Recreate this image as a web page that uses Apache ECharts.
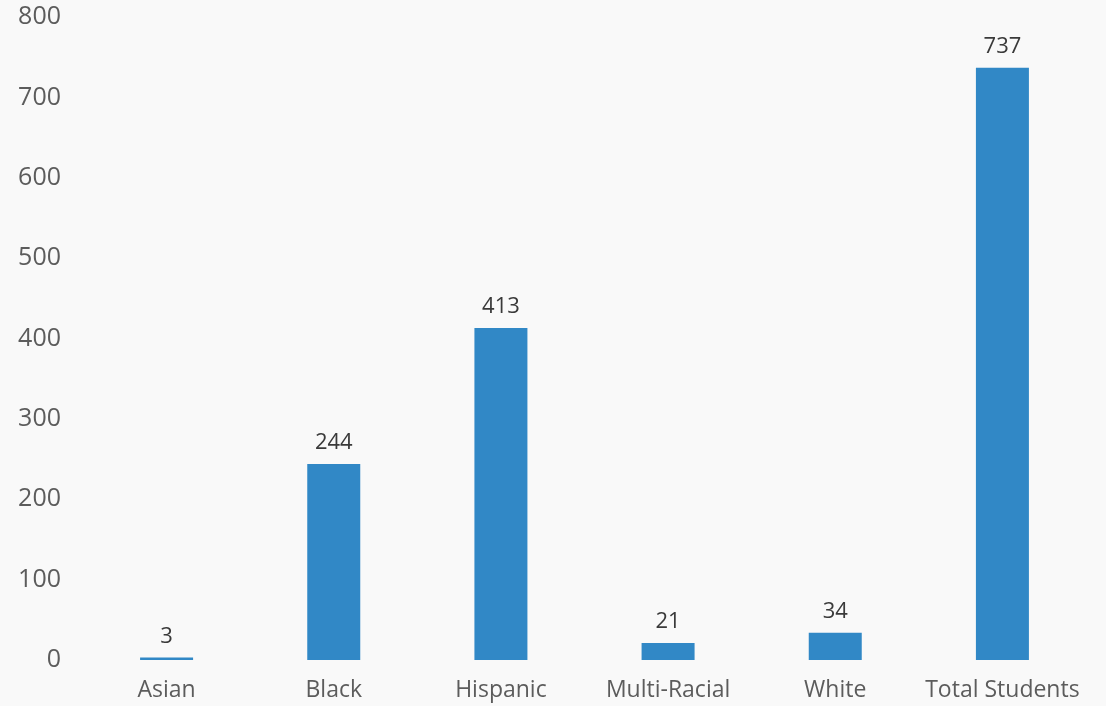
<!DOCTYPE html>
<html>
<head>
<meta charset="utf-8">
<script src="https://cdn.jsdelivr.net/npm/echarts@6/dist/echarts.min.js"></script>
<style>
  html, body { margin: 0; padding: 0; background: #f9f9f9; }
  #chart { width: 1106px; height: 706px; }
</style>
</head>
<body>
<div id="chart"></div>
<script>
// categories and counts
const categories = ['Asian', 'Black', 'Hispanic', 'Multi-Racial', 'White', 'Total Students']
const students = [3, 244, 413, 21, 34, 737]

const chart = echarts.init(document.getElementById('chart'))

const option = {
  backgroundColor: '#f9f9f9',
  animation: false,
  grid: {
    top: 17,
    left: 83,
    right: 20,
    bottom: 46
  },
  xAxis: {
    type: 'category',
    data: categories,
    axisLine: { show: false },
    axisTick: { show: false },
    axisLabel: {
      interval: 0,
      color: '#5c5c5c',
      fontFamily: 'Open Sans',
      fontSize: 23,
      margin: 19
    }
  },
  yAxis: {
    type: 'value',
    min: 0,
    max: 800,
    interval: 100,
    splitLine: { show: false },
    axisLine: { show: false },
    axisTick: { show: false },
    axisLabel: {
      color: '#5c5c5c',
      fontFamily: 'Open Sans',
      fontSize: 25,
      margin: 22
    }
  },
  series: [
    {
      type: 'bar',
      data: students,
      barWidth: 53,
      itemStyle: { color: '#3188c6' },
      label: {
        show: true,
        position: 'top',
        distance: 10,
        color: '#3a3a3a',
        fontFamily: 'Open Sans',
        fontSize: 22
      }
    }
  ]
}

chart.setOption(option)
</script>
</body>
</html>
